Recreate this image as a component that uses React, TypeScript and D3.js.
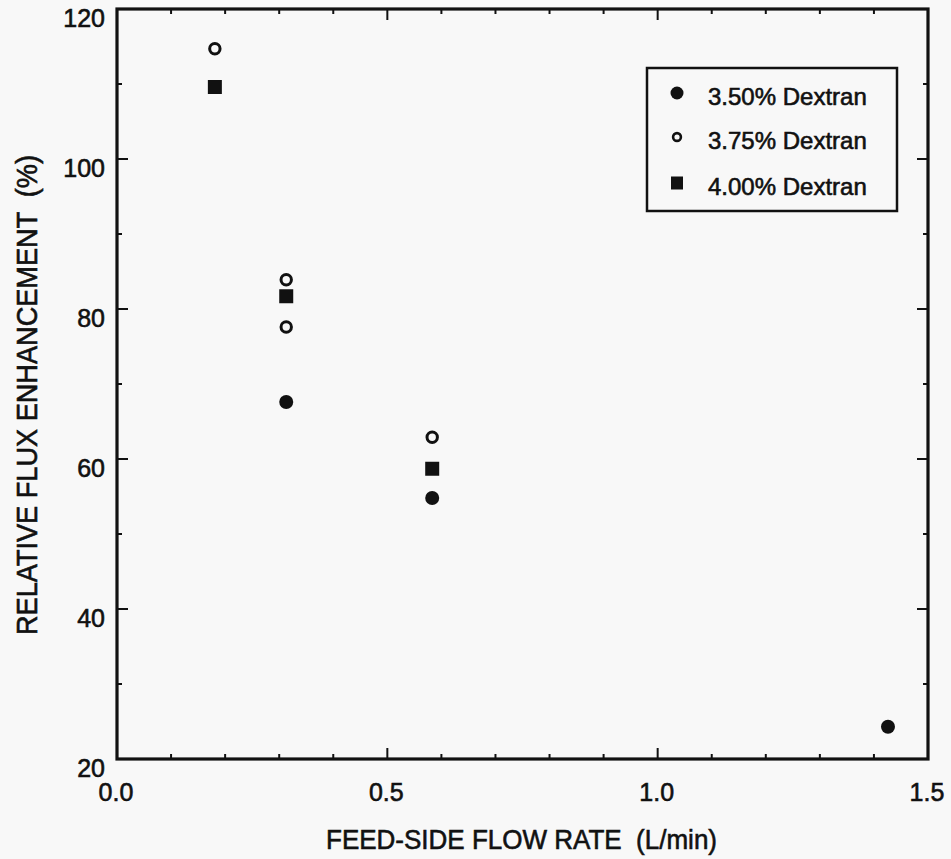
import React from "react";
import * as d3 from "d3";

const seriesNames = ["3.50% Dextran", "3.75% Dextran", "4.00% Dextran"];
const dex350X = [0.313, 0.583, 1.426];
const dex350Y = [67.6, 54.8, 24.3];
const dex375X = [0.181, 0.313, 0.313, 0.583];
const dex375Y = [114.7, 83.9, 77.6, 62.9];
const dex400X = [0.181, 0.313, 0.583];
const dex400Y = [109.6, 81.7, 58.7];
const xTickLabels = ["0.0", "0.5", "1.0", "1.5"];
const yTickLabels = ["20", "40", "60", "80", "100", "120"];

const W = 951;
const H = 859;
const L = 117, R = 928, T = 9, B = 759;
const FONT = "'Liberation Sans', Arial, Helvetica, sans-serif";
const INK = "#111";
const TS = { stroke: INK, strokeWidth: 0.6 };

export default function App() {
  const x = d3.scaleLinear().domain([0, 1.5]).range([L, R]);
  const y = d3.scaleLinear().domain([20, 120]).range([B, T]);

  const xMinor = d3.range(0, 16).map((i) => i / 10);
  const yMinor = d3.range(20, 121, 10);

  const s1 = dex350X.map((v, i) => [v, dex350Y[i]]);
  const s2 = dex375X.map((v, i) => [v, dex375Y[i]]);
  const s3 = dex400X.map((v, i) => [v, dex400Y[i]]);

  const legendRows = [93, 137, 183];

  return (
    <svg
      width={W}
      height={H}
      style={{ position: "absolute", left: 0, top: 0, background: "#f8f8f8" }}
    >
      <rect x={0} y={0} width={W} height={H} fill="#f8f8f8" />
      {xMinor.map((v, i) => {
        const major = i % 5 === 0;
        const len = major ? 11 : 5;
        const px = x(v);
        return (
          <g key={"xt" + i} stroke={INK} strokeWidth={2}>
            <line x1={px} x2={px} y1={B} y2={B - len} />
            <line x1={px} x2={px} y1={T} y2={T + len} />
          </g>
        );
      })}
      {yMinor.map((v, i) => {
        const major = v % 20 === 0;
        const len = major ? 11 : 5;
        const py = y(v);
        return (
          <g key={"yt" + i} stroke={INK} strokeWidth={2}>
            <line x1={L} x2={L + len} y1={py} y2={py} />
            <line x1={R} x2={R - len} y1={py} y2={py} />
          </g>
        );
      })}
      <rect x={L} y={T} width={R - L} height={B - T} fill="none" stroke={INK} strokeWidth={3.2} />
      {xTickLabels.map((t) => (
        <text
          key={"xl" + t}
          x={x(+t) - 1}
          y={801}
          textAnchor="middle"
          fontFamily={FONT}
          fontSize={25}
          fill={INK}
          {...TS}
        >
          {t}
        </text>
      ))}
      {yTickLabels.map((t) => (
        <text
          key={"yl" + t}
          x={105}
          y={y(+t) + 18}
          textAnchor="end"
          fontFamily={FONT}
          fontSize={25}
          fill={INK}
          {...TS}
        >
          {t}
        </text>
      ))}
      <text
        x={326}
        y={849}
        fontFamily={FONT}
        fontSize={27}
        fill={INK}
        textLength={391}
        lengthAdjust="spacingAndGlyphs"
        style={{ whiteSpace: "pre" }}
        {...TS}
      >
        {"FEED-SIDE FLOW RATE  (L/min)"}
      </text>
      <text
        transform={`translate(37,635) rotate(-90)`}
        x={0}
        y={0}
        fontFamily={FONT}
        fontSize={29}
        fill={INK}
        textLength={480}
        lengthAdjust="spacingAndGlyphs"
        style={{ whiteSpace: "pre" }}
        {...TS}
      >
        {"RELATIVE FLUX ENHANCEMENT  (%)"}
      </text>
      {s1.map((d, i) => (
        <circle key={"a" + i} cx={x(d[0])} cy={y(d[1])} r={7} fill={INK} />
      ))}
      {s2.map((d, i) => (
        <circle
          key={"b" + i}
          cx={x(d[0])}
          cy={y(d[1])}
          r={5.2}
          fill="none"
          stroke={INK}
          strokeWidth={3}
        />
      ))}
      {s3.map((d, i) => (
        <rect key={"c" + i} x={x(d[0]) - 7} y={y(d[1]) - 7} width={14} height={14} fill={INK} />
      ))}
      <rect x={647} y={68} width={250} height={143} fill="none" stroke={INK} strokeWidth={2.5} />
      <circle cx={677} cy={legendRows[0]} r={6.5} fill={INK} />
      <circle cx={677} cy={legendRows[1]} r={3.9} fill="none" stroke={INK} strokeWidth={2.6} />
      <rect x={671} y={legendRows[2] - 6.5} width={12} height={13} fill={INK} />
      {seriesNames.map((n, i) => (
        <text
          key={"lg" + i}
          x={708}
          y={legendRows[i] + 12}
          fontFamily={FONT}
          fontSize={24}
          fill={INK}
          {...TS}
        >
          {n}
        </text>
      ))}
    </svg>
  );
}
